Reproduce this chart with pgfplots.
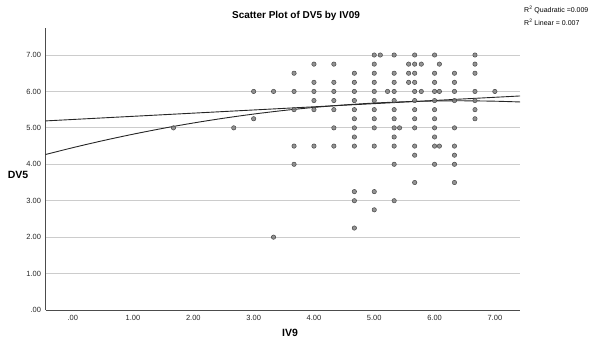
\documentclass[border=0pt]{standalone}
\usepackage{fontspec}
\setmainfont{Liberation Sans}
\usepackage{pgfplots}
\usepackage{pgfplotstable}
\pgfplotsset{compat=1.18}
\pgfplotstableread{
x y
1.67 5.0
2.67 5.0
3.00 6.0
3.00 5.25
3.33 6.0
3.33 2.0
3.67 6.5
3.67 6.0
3.67 5.5
3.67 4.5
3.67 4.0
4.00 6.75
4.00 6.25
4.00 6.0
4.00 5.75
4.00 5.5
4.00 4.5
4.33 6.75
4.33 6.25
4.33 6.0
4.33 5.75
4.33 5.5
4.33 5.0
4.33 4.5
4.67 6.5
4.67 6.25
4.67 6.0
4.67 5.75
4.67 5.5
4.67 5.25
4.67 5.0
4.67 4.75
4.67 4.5
4.67 3.25
4.67 3.0
4.67 2.25
5.00 7.0
5.00 6.75
5.00 6.5
5.00 6.25
5.00 6.0
5.00 5.75
5.00 5.5
5.00 5.25
5.00 5.0
5.00 4.5
5.00 3.25
5.00 2.75
5.10 7.0
5.22 6.0
5.33 7.0
5.33 6.5
5.33 6.25
5.33 6.0
5.33 5.75
5.33 5.5
5.33 5.25
5.33 5.0
5.33 4.75
5.33 4.5
5.33 4.0
5.33 3.0
5.42 5.0
5.57 6.75
5.57 6.5
5.57 6.25
5.67 7.0
5.67 6.75
5.67 6.5
5.67 6.25
5.67 6.0
5.67 5.75
5.67 5.5
5.67 5.25
5.67 5.0
5.67 4.5
5.67 4.25
5.67 3.5
5.78 6.75
5.78 6.0
6.00 7.0
6.00 6.5
6.00 6.25
6.00 6.0
6.00 5.75
6.00 5.5
6.00 5.25
6.00 5.0
6.00 4.75
6.00 4.5
6.00 4.0
6.08 6.75
6.08 6.0
6.08 4.5
6.33 6.5
6.33 6.25
6.33 6.0
6.33 5.75
6.33 5.0
6.33 4.5
6.33 4.25
6.33 4.0
6.33 3.5
6.67 7.0
6.67 6.75
6.67 6.5
6.67 6.0
6.67 5.75
6.67 5.5
6.67 5.25
7.00 6.0
}\pts
\pgfplotstableread{
x y
-0.45 4.269
0.0 4.456
0.5 4.649
1.0 4.826
1.5 4.988
2.0 5.134
2.5 5.264
3.0 5.379
3.5 5.478
4.0 5.561
4.5 5.629
5.0 5.681
5.5 5.717
6.0 5.738
6.5 5.743
7.0 5.732
7.42 5.711
}\quad
\pgfplotstableread{
x y
-0.45 5.191
7.42 5.876
}\lin
\begin{document}
\begin{tikzpicture}[x=1pt,y=1pt]
\useasboundingbox (0,0) rectangle (591,347);
\begin{axis}[
  at={(45.6pt,37pt)}, anchor=south west,
  scale only axis, width=474.6pt, height=282.3pt,
  xmin=-0.45, xmax=7.42, ymin=0, ymax=7.75,
  axis x line=bottom, axis y line=left,
  axis line style={-, draw=black!70, line width=0.8pt},
  xtick={0,1,2,3,4,5,6,7},
  xticklabels={.00,1.00,2.00,3.00,4.00,5.00,6.00,7.00},
  ytick={0,1,2,3,4,5,6,7},
  yticklabels={.00,1.00,2.00,3.00,4.00,5.00,6.00,7.00},
  major tick length=0pt,
  ymajorgrids, grid style={draw=black!20, line width=0.8pt},
  tick label style={font=\fontsize{7.5}{8}\selectfont, text=black!85},
  xticklabel style={yshift=-2pt},
  yticklabel style={xshift=-1pt},
  /pgf/number format/assume math mode=true,
  clip=false,
]
\addplot[only marks, mark=*, mark size=2.2pt,
  mark options={fill=black!50, draw=black!72, line width=0.5pt, fill opacity=0.85}]
  table[x=x,y=y] {\pts};
\addplot[black!85, line width=0.9pt, smooth, no marks] table[x=x,y=y] {\quad};
\addplot[black!85, line width=0.9pt, no marks] table[x=x,y=y] {\lin};
\end{axis}
\node[font=\bfseries\fontsize{10}{12}\selectfont] at (296,331) {Scatter Plot of DV5 by IV09};
\node[font=\bfseries\fontsize{10.5}{12}\selectfont] at (18,172) {DV5};
\node[font=\bfseries\fontsize{10.5}{12}\selectfont] at (290,14) {IV9};
\node[anchor=west, font=\fontsize{7}{8}\selectfont, inner sep=0pt] at (524,337) {R\textsuperscript{2} Quadratic =0.009};
\node[anchor=west, font=\fontsize{7}{8}\selectfont, inner sep=0pt] at (524,325) {R\textsuperscript{2} Linear = 0.007};
\end{tikzpicture}
\end{document}
